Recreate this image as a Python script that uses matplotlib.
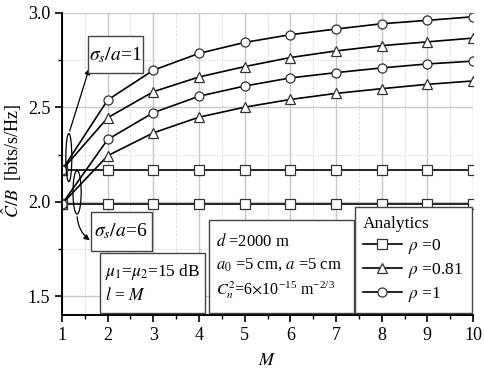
import numpy as np
import matplotlib
matplotlib.use('Agg')
import matplotlib.pyplot as plt
from matplotlib.lines import Line2D
from matplotlib.patches import Ellipse, Rectangle

plt.rcParams['font.family'] = ['Liberation Serif', 'DejaVu Serif']
plt.rcParams['mathtext.fontset'] = 'stix'

# data
M = [1, 2, 3, 4, 5, 6, 7, 8, 9, 10]
# sigma_s/a = 1
rho0_s1 = [2.168] * 10
rho081_s1 = [2.168, 2.445, 2.583, 2.661, 2.716, 2.764, 2.799, 2.827, 2.847, 2.867]
rho1_s1 = [2.168, 2.539, 2.697, 2.786, 2.844, 2.885, 2.915, 2.943, 2.961, 2.980]
# sigma_s/a = 6
rho0_s6 = [1.988] * 10
rho081_s6 = [1.988, 2.244, 2.365, 2.448, 2.501, 2.542, 2.574, 2.599, 2.622, 2.640]
rho1_s6 = [1.988, 2.330, 2.472, 2.559, 2.613, 2.656, 2.684, 2.709, 2.730, 2.745]

fig = plt.figure(figsize=(4.85, 3.7), dpi=100)
ax = fig.add_axes([0.1278, 0.1486, 0.8475, 0.8163])

mk = dict(color='black', lw=1.2, markerfacecolor='white', markeredgecolor='#333333',
          markersize=6.5, markeredgewidth=0.9)
for y in (rho0_s1, rho0_s6):
    ax.plot(M, y, marker='s', **mk)
for y in (rho081_s1, rho081_s6):
    ax.plot(M, y, marker='^', **mk)
for y in (rho1_s1, rho1_s6):
    ax.plot(M, y, marker='o', **mk)

ax.set_xlim(1, 10)
ax.set_ylim(1.4, 3.0)
ax.set_xticks(range(1, 11))
ax.set_xticks(np.arange(1.5, 10, 1), minor=True)
ax.set_yticks([1.5, 2.0, 2.5, 3.0])
ax.set_yticks([1.75, 2.25, 2.75], minor=True)
ax.grid(True, which='major', color='#c8c8c8', lw=1.0)
ax.grid(True, which='minor', color='#d8d8d8', lw=0.6, ls=(0, (3, 2)))
ax.set_axisbelow(True)
for s in ('top', 'right'):
    ax.spines[s].set_visible(False)
for s in ('left', 'bottom'):
    ax.spines[s].set_linewidth(1.4)
ax.tick_params(which='major', direction='out', length=5, width=1.2, labelsize=13)
ax.tick_params(which='minor', direction='out', length=3, width=1.0)

ax.set_xlabel('$M$', fontsize=13, labelpad=6)
ax.set_ylabel(r'$\hat{C}/B$  [bits/s/Hz]', fontsize=13)
ax.yaxis.set_label_coords(-0.093, 0.51)

def box(x0, y0, x1, y1):
    # box given in pixel coordinates of the figure
    W, H = 485, 370
    r = Rectangle((x0 / W, 1 - y1 / H), (x1 - x0) / W, (y1 - y0) / H,
                  transform=fig.transFigure, facecolor='white', edgecolor='#444444',
                  lw=1.0, zorder=5)
    fig.add_artist(r)

box(88, 36, 143, 73)
fig.text(115 / 485, 1 - 55 / 370, r'$\sigma_s/a$=1', ha='center', va='center', fontsize=14, zorder=6)
box(91, 212, 152, 251)
fig.text(121 / 485, 1 - 231 / 370, r'$\sigma_s/a$=6', ha='center', va='center', fontsize=14, zorder=6)
box(100, 253, 205, 313)
fig.text(105 / 485, 1 - 272 / 370, r'$\mu_1$=$\mu_2$=15 dB', ha='left', va='center', fontsize=12.5, zorder=6)
fig.text(105 / 485, 1 - 296 / 370, r'$l$ = $M$', ha='left', va='center', fontsize=12.5, zorder=6)
box(209, 220, 354, 313)
fig.text(216 / 485, 1 - 241 / 370, r'$d$ =2000 m', ha='left', va='center', fontsize=12, zorder=6)
fig.text(216 / 485, 1 - 265 / 370, r'$a_0$ =5 cm, $a$ =5 cm', ha='left', va='center', fontsize=12, zorder=6)
fig.text(216 / 485, 1 - 290 / 370, r'$C_n^2$=6$\times$10$^{\mathregular{-15}}$ m$^{\mathregular{-2/3}}$',
         ha='left', va='center', fontsize=11.5, zorder=6)

# ellipses and arrows
ax.add_patch(Ellipse((1.15, 2.234), 0.13, 0.255, fill=False, ec='black', lw=0.9, zorder=4))
ax.add_patch(Ellipse((1.33, 2.05), 0.18, 0.23, fill=False, ec='black', lw=0.9, zorder=4))
ax.annotate('', xy=(90 / 485, 1 - 66 / 370), xycoords='figure fraction',
            xytext=(1.15, 2.36), textcoords='data',
            arrowprops=dict(arrowstyle='-|>', color='black', lw=0.9, mutation_scale=8))
ax.annotate('', xy=(92 / 485, 1 - 242 / 370), xycoords='figure fraction',
            xytext=(1.33, 1.935), textcoords='data',
            arrowprops=dict(arrowstyle='-|>', color='black', lw=0.9, mutation_scale=8,
                            connectionstyle='angle3,angleA=-90,angleB=-35'))

handles = [Line2D([], [], marker=m, **mk) for m in ('s', '^', 'o')]
labels = [r'$\rho$ =0', r'$\rho$ =0.81', r'$\rho$ =1']
leg = ax.legend(handles, labels, title='Analytics', loc='lower right',
                bbox_to_anchor=(0.998, 0.007), fontsize=12.5, title_fontsize=12.5,
                fancybox=False, edgecolor='#444444', framealpha=1, borderaxespad=0,
                handlelength=2.2, handletextpad=0.4, labelspacing=0.3, borderpad=0.5)
leg._legend_box.align = 'left'
leg.get_frame().set_linewidth(1.0)
leg.set_zorder(6)

fig.savefig('out.png', dpi=100)
